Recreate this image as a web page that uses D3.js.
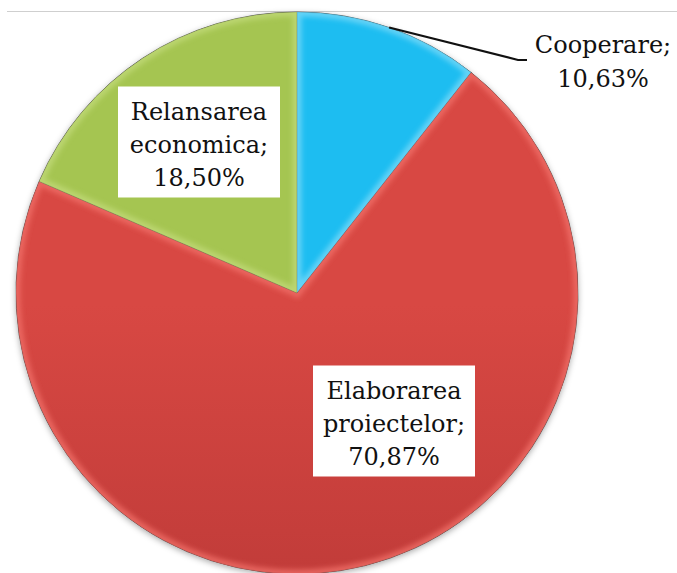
<!DOCTYPE html>
<html>
<head>
<meta charset="utf-8">
<script src="https://cdn.jsdelivr.net/npm/d3@7"></script>
<style>
  body { margin: 0; background: #fff; }
  svg { display: block; }
  text { font-family: "DejaVu Serif", serif; font-size: 24px; fill: #111; }
</style>
</head>
<body>
<svg width="677" height="573"></svg>
<script>
const categories = ["Cooperare", "Elaborarea proiectelor", "Relansarea economica"];
const values = [10.63, 70.87, 18.50];
const labelLines = [
  ["Cooperare;", "10,63%"],
  ["Elaborarea", "proiectelor;", "70,87%"],
  ["Relansarea", "economica;", "18,50%"]
];

const WIDTH = 677, HEIGHT = 573;
const CX = 297, CY = 293, R = 281;

// light top -> dark bottom per slice
const colors = [
  { top: "#1dbdf1", bottom: "#06a4dc", edge: "#74d8f8" },
  { top: "#d84843", bottom: "#a92f2f", edge: "#ef6d66" },
  { top: "#a5c551", bottom: "#88a83c", edge: "#c0da78" }
];

// where Excel put the boxed labels (centre of box)
const boxCentres = { 1: [394, 421], 2: [199, 142] };

let svg = d3.select("svg");
let defs = svg.append("defs");

svg.append("line")
   .attr("x1", 7).attr("x2", WIDTH)
   .attr("y1", 11.5).attr("y2", 11.5)
   .attr("stroke", "#cfcfcf").attr("stroke-width", 1);

let shadow = defs.append("filter").attr("id", "shadow")
                 .attr("x", "-10%").attr("y", "-10%").attr("width", "120%").attr("height", "120%");
shadow.append("feDropShadow").attr("dx", 0).attr("dy", 2).attr("stdDeviation", 3)
      .attr("flood-color", "#000").attr("flood-opacity", 0.35);

let blur = defs.append("filter").attr("id", "soft");
blur.append("feGaussianBlur").attr("stdDeviation", 2.5);

colors.forEach((c, i) => {
  let g = defs.append("linearGradient").attr("id", "grad" + i)
              .attr("gradientUnits", "userSpaceOnUse")
              .attr("x1", 0).attr("y1", CY - R).attr("x2", 0).attr("y2", CY + R);
  g.append("stop").attr("offset", "0%").attr("stop-color", c.top);
  g.append("stop").attr("offset", "100%").attr("stop-color", c.bottom);
});

let pie = d3.pie().sort(null).value(d => d);
let arcs = pie(values);
let arc = d3.arc().innerRadius(0).outerRadius(R);

let chart = svg.append("g").attr("transform", "translate(" + CX + "," + CY + ")");

// shadow under the whole pie
chart.append("circle").attr("r", R).attr("fill", "#888").attr("filter", "url(#shadow)");

arcs.forEach((d, i) => {
  defs.append("clipPath").attr("id", "clip" + i)
      .append("path").attr("d", arc(d)).attr("transform", "translate(" + CX + "," + CY + ")");
});

let slices = chart.selectAll("g.slice")
                  .data(arcs)
                  .enter().append("g")
                  .attr("class", "slice");

slices.append("path")
      .attr("d", arc)
      .attr("fill", (d, i) => "url(#grad" + i + ")");

// soft bevel along the slice edges
svg.selectAll("g.bevel")
   .data(arcs)
   .enter().append("g")
   .attr("class", "bevel")
   .attr("clip-path", (d, i) => "url(#clip" + i + ")")
   .append("path")
   .attr("transform", "translate(" + CX + "," + CY + ")")
   .attr("d", arc)
   .attr("fill", "none")
   .attr("stroke", (d, i) => colors[i].edge)
   .attr("stroke-width", 9)
   .attr("stroke-opacity", 0.8)
   .attr("filter", "url(#soft)");

chart.selectAll("path.outline")
     .data(arcs)
     .enter().append("path")
     .attr("class", "outline")
     .attr("d", arc)
     .attr("fill", "none")
     .attr("stroke", "#2a2a2a")
     .attr("stroke-opacity", 0.6)
     .attr("stroke-width", 1);

// boxed labels inside the slices
const LINE_H = 33, BOX_W = 162, BOX_H = 111;
[1, 2].forEach(i => {
  let [x, y] = boxCentres[i];
  let lab = svg.append("g").attr("transform", "translate(" + x + "," + y + ")");
  lab.append("rect")
     .attr("x", -BOX_W / 2).attr("y", -BOX_H / 2)
     .attr("width", BOX_W).attr("height", BOX_H)
     .attr("fill", "#fff");
  lab.selectAll("text")
     .data(labelLines[i])
     .enter().append("text")
     .attr("text-anchor", "middle")
     .attr("x", 0)
     .attr("y", (t, k) => -BOX_H / 2 + 33 + k * LINE_H)
     .text(t => t);
});

// outside label with leader line for the small slice
let edge = d3.arc().innerRadius(R).outerRadius(R).centroid(arcs[0]);
let start = [CX + edge[0], CY + edge[1]];
svg.append("polyline")
   .attr("points", [start, [518, 60], [527, 60]].map(p => p.join(",")).join(" "))
   .attr("fill", "none")
   .attr("stroke", "#111")
   .attr("stroke-width", 2.2);

svg.selectAll("text.outer")
   .data(labelLines[0])
   .enter().append("text")
   .attr("class", "outer")
   .attr("text-anchor", "middle")
   .attr("x", 603)
   .attr("y", (t, k) => 53 + k * 34)
   .text(t => t);
</script>
</body>
</html>
